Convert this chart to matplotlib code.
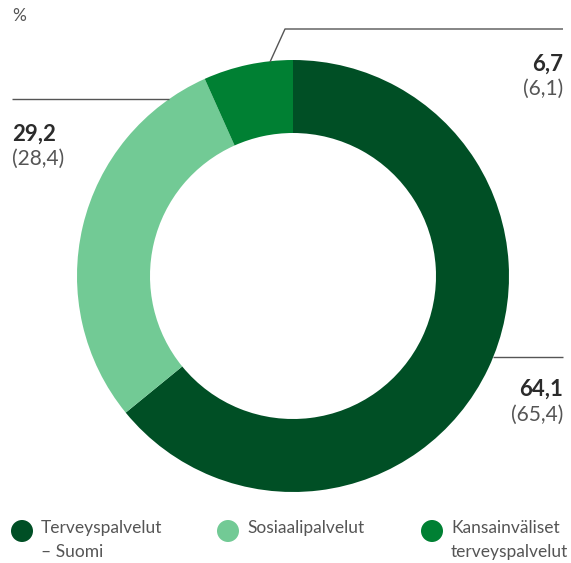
import matplotlib.pyplot as plt
from matplotlib.patches import Circle

plt.rcParams['font.family'] = ['Lato', 'DejaVu Sans']

# Data
segments = ["Terveyspalvelut\n– Suomi", "Sosiaalipalvelut", "Kansainväliset\nterveyspalvelut"]
values = [64.1, 29.2, 6.7]
prev_values = [65.4, 28.4, 6.1]
colors = ["#004f25", "#72ca95", "#008033"]

W, H = 571, 563
fig = plt.figure(figsize=(W / 100, H / 100), dpi=100)
ax = fig.add_axes([0, 0, 1, 1])

cx, cy, r_out, ring = 293, H - 276, 216, 73
ax.pie(values, colors=colors, startangle=90, counterclock=False,
       center=(cx, cy), radius=r_out, frame=True,
       wedgeprops=dict(width=ring, linewidth=0))

ax.set_xlim(0, W)
ax.set_ylim(0, H)
ax.set_aspect('equal')
ax.axis('off')

def py(y):
    return H - y

def fmt(v, paren=False):
    s = f"{v:.1f}".replace('.', ',')
    return f"({s})" if paren else s

line_kw = dict(color="#555555", lw=1, solid_capstyle='butt')
txt_dark = "#2b2b2b"
txt_light = "#555555"
big, small = 16, 15

ax.text(12, py(16), "%", fontsize=12.5, color=txt_light, va='center', ha='left')

# 6,7 label
ax.plot([270, 285, 563], [py(62), py(29), py(29)], **line_kw)
ax.text(563, py(64), fmt(values[2]), fontsize=big,
        fontweight='bold', color=txt_dark, ha='right', va='center')
ax.text(563, py(89), fmt(prev_values[2], True), fontsize=small,
        color=txt_light, ha='right', va='center')

# 29,2 label
ax.plot([12, 169], [py(99), py(99)], **line_kw)
ax.text(12, py(134), fmt(values[1]), fontsize=big,
        fontweight='bold', color=txt_dark, ha='left', va='center')
ax.text(12, py(159), fmt(prev_values[1], True), fontsize=small,
        color=txt_light, ha='left', va='center')

# 64,1 label
ax.plot([493, 563], [py(357), py(357)], **line_kw)
ax.text(563, py(389), fmt(values[0]), fontsize=big,
        fontweight='bold', color=txt_dark, ha='right', va='center')
ax.text(563, py(415), fmt(prev_values[0], True), fontsize=small,
        color=txt_light, ha='right', va='center')

# Legend
legend_x = [22, 228, 432]
for x, lab, col in zip(legend_x, segments, colors):
    ax.add_patch(Circle((x, py(531)), 11, color=col, lw=0))
    ax.text(x + 19, py(520), lab, fontsize=12.5, color=txt_light,
            ha='left', va='top', linespacing=1.6)

fig.savefig("out.png", dpi=100)
